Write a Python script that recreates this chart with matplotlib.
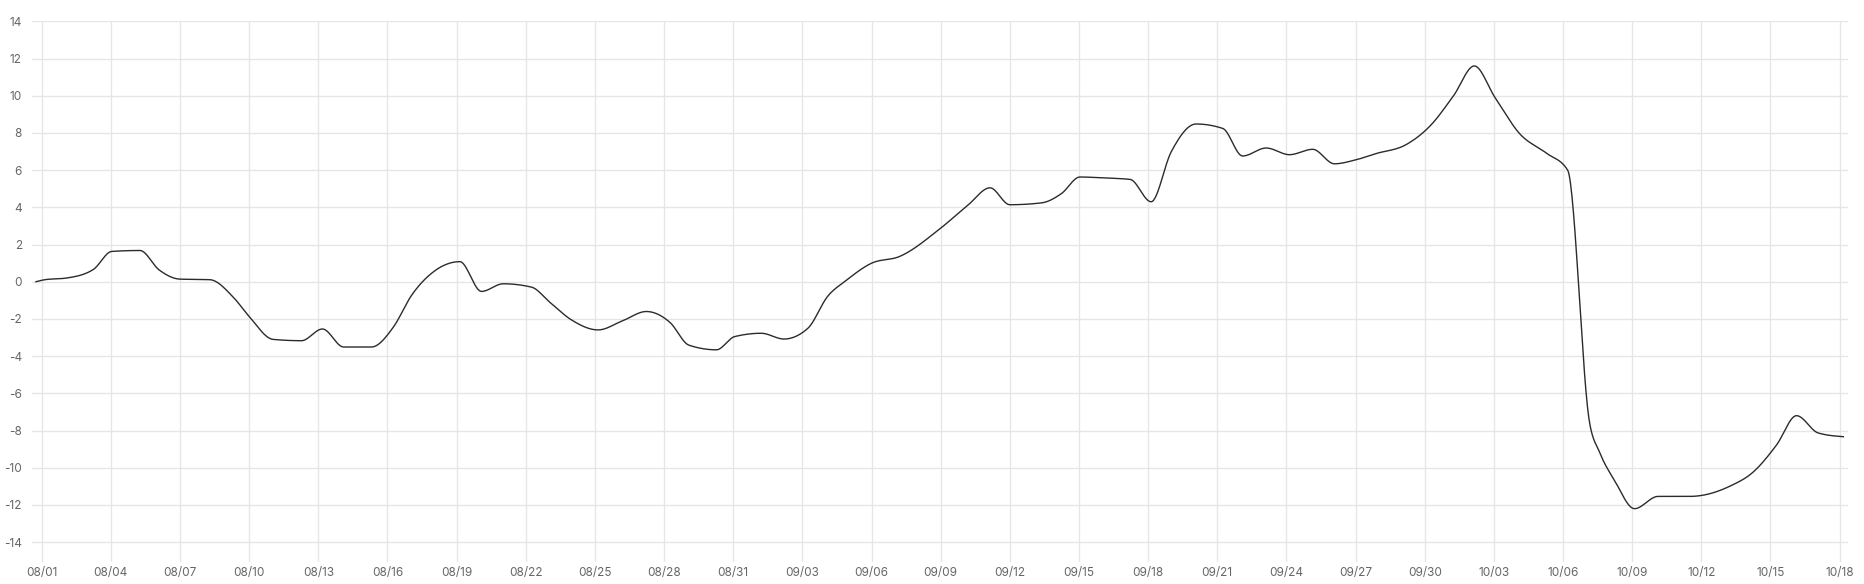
import numpy as np
import pandas as pd
import matplotlib
matplotlib.use('Agg')
import matplotlib.pyplot as plt

plt.rcParams['font.family'] = ['Inter', 'DejaVu Sans']
plt.rcParams['axes.unicode_minus'] = False

# days counted from 08/01
days = [-0.25, 0.14, 1.08, 2.24, 3.04, 4.26, 5.1, 6.0, 7.29, 8.31,
        9.0, 10.04, 11.27, 12.18, 13.1, 14.3, 15.25, 16.04, 16.98, 18.14,
        19.08, 20.02, 21.25, 22.04, 22.98, 24.14, 25.2, 26.23, 27.25, 28.08,
        29.27, 30.06, 31.22, 32.2, 33.24, 34.1, 34.9, 35.99, 37.22, 38.97,
        40.2, 41.14, 42.0, 43.38, 44.24, 45.04, 46.1, 47.22, 48.13, 49.0,
        50.08, 51.24, 52.1, 53.12, 54.13, 55.14, 56.08, 57.0, 57.89, 59.19,
        60.25, 61.25, 62.15, 63.05, 64.11, 65.27, 66.2, 67.15, 67.59, 68.24,
        69.1, 70.12, 71.5, 73.24, 74.25, 75.26, 76.13, 77.07, 78.16]
values = [0.0, 0.11, 0.2, 0.66, 1.63, 1.68, 0.63, 0.14, 0.11, -0.83,
          -1.87, -3.1, -3.17, -2.54, -3.51, -3.51, -2.45, -0.74, 0.52, 1.08,
          -0.52, -0.11, -0.29, -1.1, -2.05, -2.59, -2.1, -1.6, -2.18, -3.41,
          -3.66, -2.95, -2.77, -3.08, -2.5, -0.78, 0.07, 0.99, 1.36, 2.85,
          4.14, 5.05, 4.14, 4.24, 4.74, 5.63, 5.58, 5.5, 4.3, 6.98,
          8.48, 8.24, 6.76, 7.19, 6.83, 7.12, 6.34, 6.55, 6.89, 7.37,
          8.4, 10.0, 11.6, 9.9, 7.97, 6.92, 6.0, -7.57, -9.18, -10.69,
          -12.2, -11.54, -11.54, -10.99, -10.23, -8.78, -7.2, -8.13, -8.33]

start_date = '2024-08-01'
tick_days = list(range(0, 79, 3))
tick_labels = [(pd.Timestamp(start_date) + pd.Timedelta(days=d)).strftime('%m/%d') for d in tick_days]
y_ticks = list(range(-14, 15, 2))


def monotone(x, y, n=30):
    # monotone cubic like d3 curveMonotoneX
    x = np.asarray(x, float)
    y = np.asarray(y, float)
    h = np.diff(x)
    s = np.diff(y) / h
    t = np.zeros(len(x))
    for i in range(1, len(x) - 1):
        s0, s1 = s[i - 1], s[i]
        p = (s0 * h[i] + s1 * h[i - 1]) / (h[i - 1] + h[i])
        t[i] = (np.sign(s0) + np.sign(s1)) * min(abs(s0), abs(s1), 0.5 * abs(p))
    t[0] = (3 * s[0] - t[1]) / 2
    t[-1] = (3 * s[-1] - t[-2]) / 2
    xs, ys = [], []
    for i in range(len(x) - 1):
        u = np.linspace(0, 1, n, endpoint=False)
        h00 = 2 * u**3 - 3 * u**2 + 1
        h10 = u**3 - 2 * u**2 + u
        h01 = -2 * u**3 + 3 * u**2
        h11 = u**3 - u**2
        xs.append(x[i] + u * h[i])
        ys.append(h00 * y[i] + h10 * h[i] * t[i] + h01 * y[i + 1] + h11 * h[i] * t[i + 1])
    xs.append([x[-1]])
    ys.append([y[-1]])
    return np.concatenate(xs), np.concatenate(ys)


fig = plt.figure(figsize=(18.65, 5.84), dpi=100)
ax = fig.add_axes([0.017, 0.0382, 0.9741, 0.9253])

cx, cy = monotone(days, values)
ax.plot(cx, cy, color='#2b2b2b', lw=1.0, zorder=3)

ax.set_xlim(-0.434, 78.38)
ax.set_ylim(-15.05, 14)
ax.set_xticks(tick_days)
ax.set_xticklabels(tick_labels)
ax.set_yticks(y_ticks)
ax.grid(True, color='#e6e6e6', lw=1.0)
ax.set_axisbelow(True)
for sp in ax.spines.values():
    sp.set_visible(False)
ax.tick_params(length=0, labelsize=8.5, labelcolor='#666666')
ax.tick_params(axis='y', pad=7)
ax.tick_params(axis='x', pad=4)

fig.savefig('out.png', dpi=100)
